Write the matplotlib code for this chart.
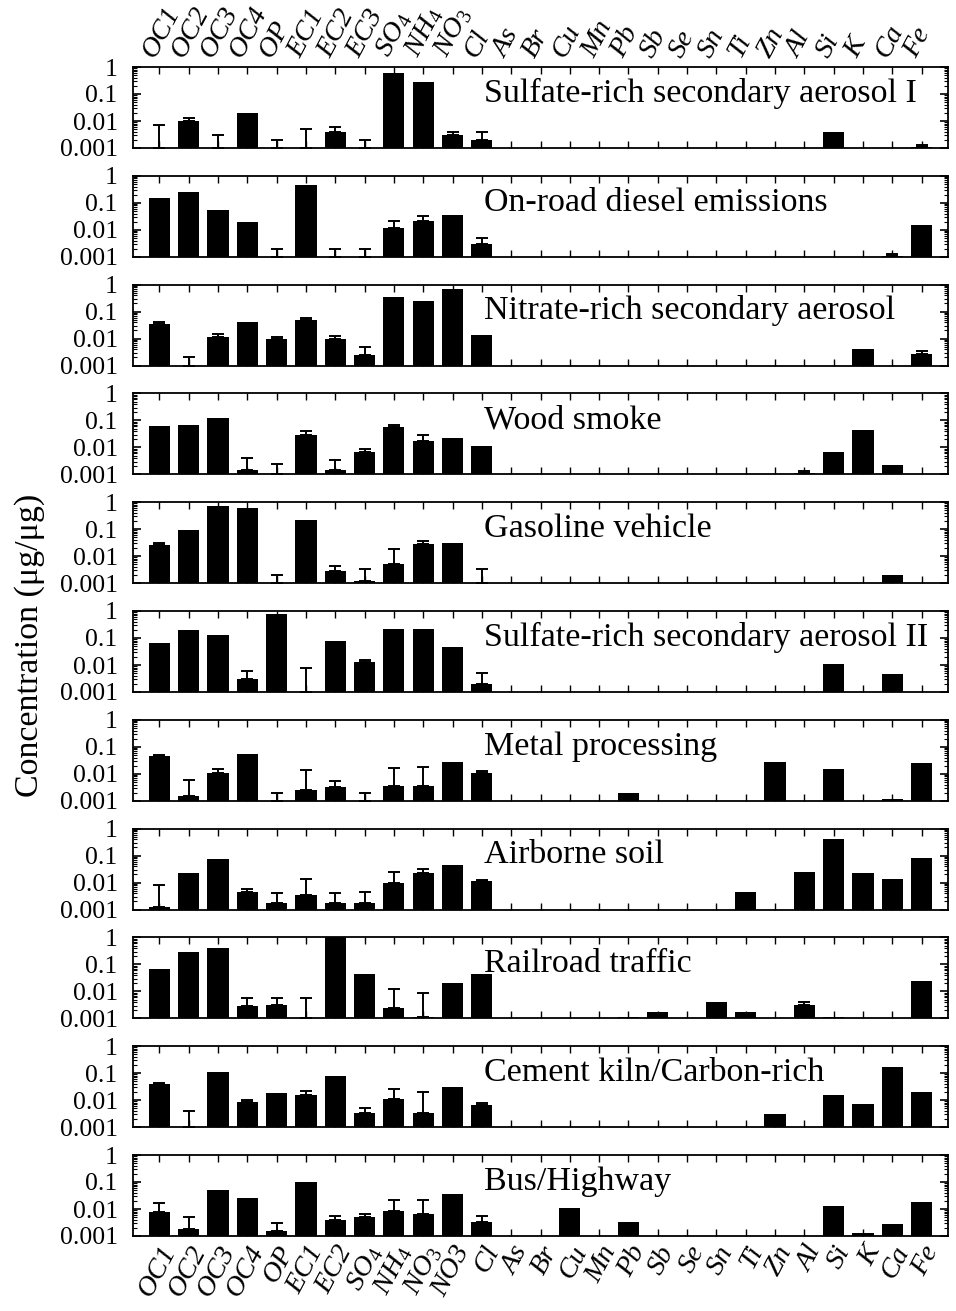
import matplotlib
matplotlib.use('Agg')
import matplotlib.pyplot as plt
import matplotlib.ticker as mticker
import numpy as np

plt.rcParams['font.family'] = ['Liberation Serif', 'DejaVu Serif']
plt.rcParams['mathtext.fontset'] = 'custom'
plt.rcParams['mathtext.rm'] = 'Liberation Serif'
plt.rcParams['mathtext.it'] = 'Liberation Serif:italic'

# species labels (top and bottom rows differ in the original)
top_labels = ['OC1', 'OC2', 'OC3', 'OC4', 'OP', 'EC1', 'EC2', 'EC3', r'SO$_4$', r'NH$_4$', r'NO$_3$', 'Cl',
              'As', 'Br', 'Cu', 'Mn', 'Pb', 'Sb', 'Se', 'Sn', 'Ti', 'Zn', 'Al', 'Si', 'K', 'Ca', 'Fe']
bottom_labels = ['OC1', 'OC2', 'OC3', 'OC4', 'OP', 'EC1', 'EC2', r'SO$_4$', r'NH$_4$', r'NO$_3$', 'NO3', 'Cl',
                 'As', 'Br', 'Cu', 'Mn', 'Pb', 'Sb', 'Se', 'Sn', 'Ti', 'Zn', 'Al', 'Si', 'K', 'Ca', 'Fe']

titles = ['Sulfate-rich secondary aerosol I', 'On-road diesel emissions', 'Nitrate-rich secondary aerosol',
          'Wood smoke', 'Gasoline vehicle', 'Sulfate-rich secondary aerosol II', 'Metal processing',
          'Airborne soil', 'Railroad traffic', 'Cement kiln/Carbon-rich', 'Bus/Highway']

# bar values (0 = no bar), order as top_labels
sulfate1 = [0, 0.010, 0, 0.020, 0, 0, 0.004, 0, 0.60, 0.28, 0.003, 0.002,
            0, 0, 0, 0, 0, 0, 0, 0, 0, 0, 0, 0.004, 0, 0, 0.0011]
diesel = [0.15, 0.25, 0.055, 0.02, 0, 0.45, 0, 0, 0.012, 0.022, 0.035, 0.003,
          0, 0, 0, 0, 0, 0, 0, 0, 0, 0, 0, 0, 0, 0.0011, 0.015]
nitrate = [0.035, 0, 0.011, 0.04, 0.01, 0.05, 0.01, 0.0025, 0.35, 0.25, 0.70, 0.014,
           0, 0, 0, 0, 0, 0, 0, 0, 0, 0, 0, 0, 0.004, 0, 0.0028]
wood = [0.06, 0.07, 0.12, 0.0015, 0, 0.03, 0.0015, 0.007, 0.055, 0.017, 0.023, 0.011,
        0, 0, 0, 0, 0, 0, 0, 0, 0, 0, 0.0011, 0.007, 0.045, 0.0022, 0]
gasoline = [0.025, 0.09, 0.70, 0.60, 0, 0.22, 0.0028, 0.0012, 0.005, 0.028, 0.03, 0,
            0, 0, 0, 0, 0, 0, 0, 0, 0, 0, 0, 0, 0, 0.002, 0]
sulfate2 = [0.065, 0.20, 0.13, 0.003, 0.80, 0, 0.08, 0.013, 0.22, 0.22, 0.045, 0.002,
            0, 0, 0, 0, 0, 0, 0, 0, 0, 0, 0, 0.011, 0, 0.0045, 0]
metal = [0.045, 0.0015, 0.011, 0.055, 0, 0.0025, 0.0033, 0, 0.0035, 0.0035, 0.028, 0.011,
         0, 0, 0, 0, 0.002, 0, 0, 0, 0, 0.028, 0, 0.015, 0, 0.0012, 0.025]
soil = [0.0012, 0.022, 0.075, 0.0045, 0.0018, 0.0035, 0.0017, 0.0018, 0.01, 0.022, 0.045, 0.011,
        0, 0, 0, 0, 0, 0, 0, 0, 0.0045, 0, 0.025, 0.40, 0.022, 0.014, 0.08]
rail = [0.07, 0.30, 0.40, 0.0028, 0.0032, 0, 1.0, 0.045, 0.0025, 0.0011, 0.02, 0.045,
        0, 0, 0, 0, 0.0011, 0.0018, 0, 0.004, 0.0018, 0, 0.0032, 0.0011, 0, 0, 0.025]
cement = [0.04, 0, 0.11, 0.0085, 0.018, 0.016, 0.08, 0.0033, 0.011, 0.0035, 0.03, 0.0065,
          0, 0, 0, 0, 0, 0, 0, 0, 0, 0.003, 0, 0.015, 0.0075, 0.17, 0.02]
bus = [0.0075, 0.0018, 0.05, 0.025, 0.0015, 0.10, 0.004, 0.005, 0.0085, 0.0065, 0.035, 0.0033,
       0, 0, 0.011, 0, 0.0033, 0, 0, 0, 0, 0, 0, 0.013, 0.0013, 0.0027, 0.018]

# top of the error bars (0 = none drawn)
sulfate1_err = [0.007, 0.013, 0.003, 0, 0.002, 0.005, 0.006, 0.002, 0, 0, 0.004, 0.004,
                0, 0, 0, 0, 0, 0, 0, 0, 0, 0, 0, 0, 0, 0, 0.0013]
diesel_err = [0, 0, 0, 0, 0.002, 0, 0.002, 0.002, 0.022, 0.032, 0, 0.005,
              0, 0, 0, 0, 0, 0, 0, 0, 0, 0, 0, 0, 0, 0.0013, 0]
nitrate_err = [0.04, 0.002, 0.015, 0, 0.011, 0.06, 0.012, 0.005, 0, 0, 0, 0,
               0, 0, 0, 0, 0, 0, 0, 0, 0, 0, 0, 0, 0, 0, 0.0035]
wood_err = [0, 0, 0, 0.004, 0.0025, 0.04, 0.0035, 0.009, 0.065, 0.03, 0, 0,
            0, 0, 0, 0, 0, 0, 0, 0, 0, 0, 0.0013, 0, 0, 0, 0]
gasoline_err = [0.03, 0, 0, 0, 0.002, 0, 0.0045, 0.0035, 0.018, 0.036, 0, 0.0033,
                0, 0, 0, 0, 0, 0, 0, 0, 0, 0, 0, 0, 0, 0, 0]
sulfate2_err = [0, 0, 0, 0.006, 0, 0.008, 0, 0.015, 0, 0, 0, 0.005,
                0, 0, 0, 0, 0, 0, 0, 0, 0, 0, 0, 0, 0, 0, 0]
metal_err = [0.05, 0.006, 0.015, 0, 0.002, 0.014, 0.0055, 0.002, 0.016, 0.018, 0, 0.013,
             0, 0, 0, 0, 0, 0, 0, 0, 0, 0, 0, 0, 0, 0, 0]
soil_err = [0.008, 0, 0, 0.006, 0.004, 0.014, 0.004, 0.0045, 0.025, 0.032, 0, 0.013,
            0, 0, 0, 0, 0, 0, 0, 0, 0, 0, 0, 0, 0, 0, 0]
rail_err = [0, 0, 0, 0.0055, 0.0055, 0.0055, 0, 0, 0.012, 0.009, 0, 0,
            0, 0, 0, 0, 0, 0, 0, 0, 0, 0, 0.004, 0, 0, 0, 0]
cement_err = [0.045, 0.004, 0, 0.01, 0, 0.022, 0, 0.005, 0.025, 0.02, 0, 0.008,
              0, 0, 0, 0, 0, 0, 0, 0, 0, 0, 0, 0, 0, 0, 0]
bus_err = [0.016, 0.005, 0, 0, 0.003, 0, 0.0055, 0.0065, 0.022, 0.022, 0, 0.0055,
           0, 0, 0, 0, 0, 0, 0, 0, 0, 0, 0, 0, 0, 0, 0]

values = [sulfate1, diesel, nitrate, wood, gasoline, sulfate2, metal, soil, rail, cement, bus]
errtops = [sulfate1_err, diesel_err, nitrate_err, wood_err, gasoline_err, sulfate2_err,
           metal_err, soil_err, rail_err, cement_err, bus_err]

W, H = 956, 1311
fig = plt.figure(figsize=(W / 100, H / 100), dpi=100)

x = np.arange(1, len(top_labels) + 1)
ymin = 0.001
left, right = 133, 948
top0, step, ph = 67, 108.8, 81

for k in range(len(titles)):
    t = top0 + k * step
    ax = fig.add_axes([left / W, 1 - (t + ph) / H, (right - left) / W, ph / H])
    v = np.array(values[k], dtype=float)
    e = np.array(errtops[k], dtype=float)
    m = v > 0
    ax.bar(x[m], v[m], width=0.72, color='black', zorder=2)
    me = e > 0
    base = np.maximum(v, ymin)
    ax.errorbar(x[me], base[me], yerr=[np.zeros(me.sum()), e[me] - base[me]], fmt='none',
                ecolor='black', elinewidth=1.4, capsize=4.5, capthick=1.4, zorder=3)
    ax.set_yscale('log')
    ax.set_ylim(ymin, 1)
    ax.set_xlim(0.1, 27.9)
    ax.yaxis.set_major_locator(mticker.FixedLocator([0.001, 0.01, 0.1, 1]))
    ax.yaxis.set_major_formatter(mticker.FixedFormatter(['0.001', '0.01', '0.1', '1']))
    ax.yaxis.set_minor_locator(mticker.LogLocator(base=10, subs=np.arange(2, 10)))
    ax.yaxis.set_minor_formatter(mticker.NullFormatter())
    ax.set_xticks(x)
    ax.tick_params(axis='both', which='both', direction='in', top=True, right=True)
    ax.tick_params(axis='x', length=5, width=1, pad=4)
    ax.tick_params(axis='y', which='major', length=6, width=1.2, labelsize=18.5, pad=11)
    ax.tick_params(axis='y', which='minor', length=3, width=0.8)
    for s in ax.spines.values():
        s.set_linewidth(1.3)
    if k == 0:
        ax.tick_params(axis='x', labeltop=True, labelbottom=False)
        ax.set_xticklabels(top_labels, rotation=62, ha='left', va='bottom',
                           fontsize=20.5, style='italic', rotation_mode='anchor')
    elif k == len(titles) - 1:
        ax.set_xticklabels(bottom_labels, rotation=62, ha='right', va='top',
                           fontsize=20.5, style='italic', rotation_mode='anchor')
    else:
        ax.set_xticklabels([])
    ax.text(0.431, 0.57, titles[k], transform=ax.transAxes, fontsize=24.5,
            ha='left', va='baseline')

fig.text(30 / W, 1 - 645 / H, 'Concentration (μg/μg)', rotation=90, fontsize=24.5,
         ha='center', va='center')

fig.savefig('out.png', dpi=100)
